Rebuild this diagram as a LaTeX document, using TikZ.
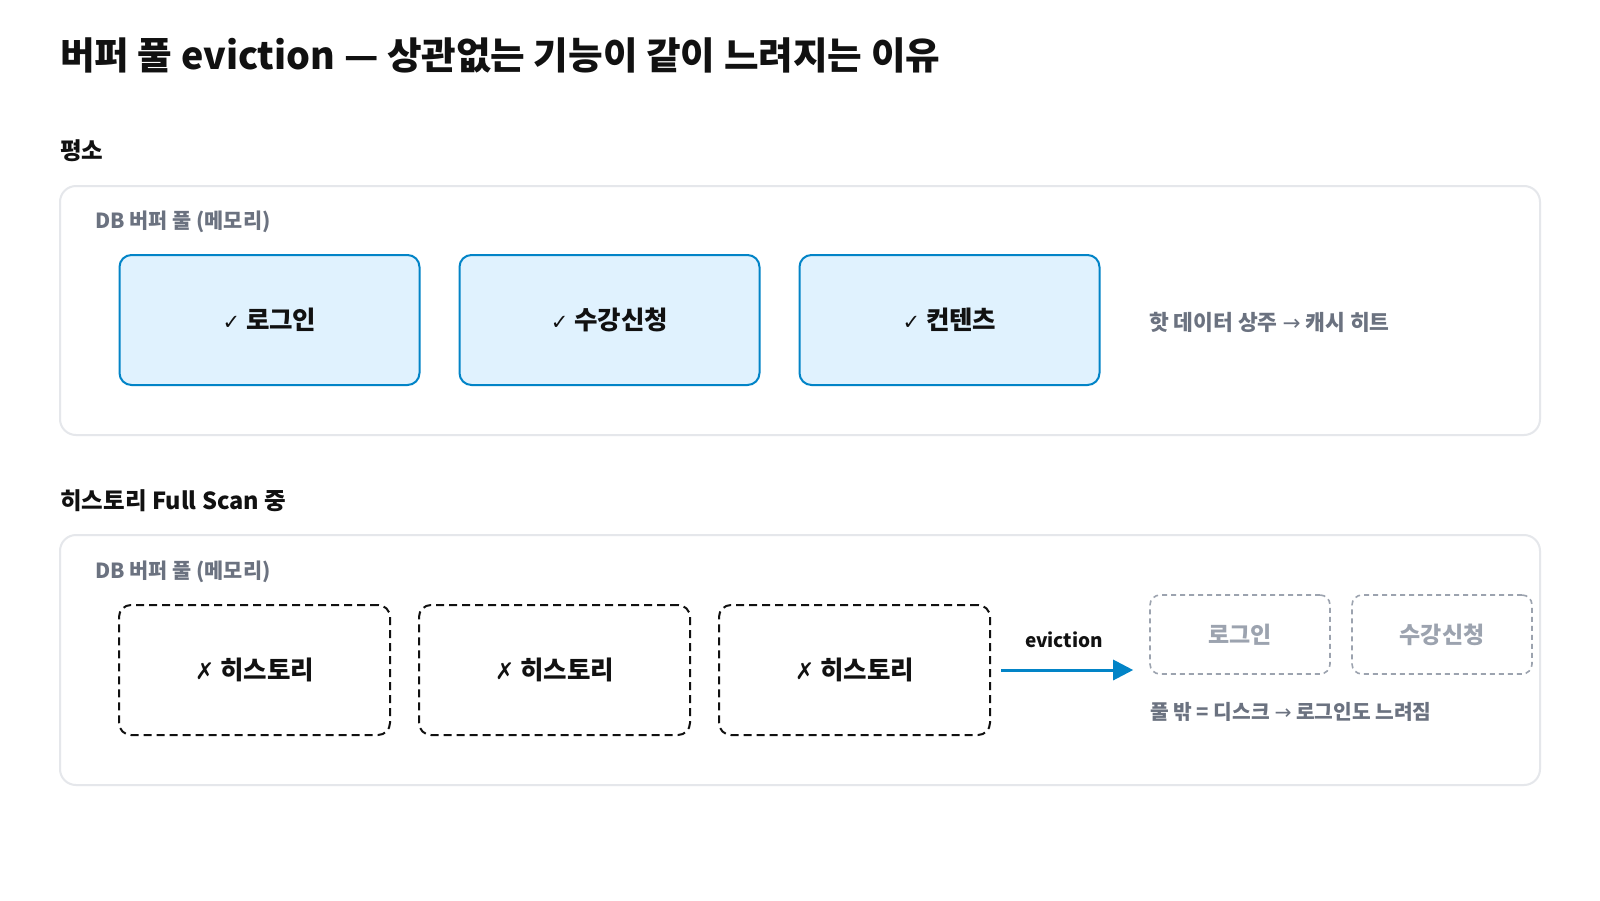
\documentclass[tikz,border=0pt]{standalone}
\usepackage{fontspec}
\setmainfont{Noto Sans CJK KR}
\newfontfamily\sym{DejaVu Sans}
\usetikzlibrary{arrows.meta}
\definecolor{ink}{HTML}{111111}
\definecolor{muted}{HTML}{6B7280}
\definecolor{panelline}{HTML}{E5E7EB}
\definecolor{hotfill}{HTML}{E0F2FE}
\definecolor{hotline}{HTML}{0284C7}
\definecolor{ghost}{HTML}{9CA3AF}
\newcommand{\lowered}[1]{\raisebox{-2.5pt}{#1}}
\tikzset{
  panel/.style={draw=panelline, line width=2pt, rounded corners=16pt, fill=white, minimum width=1480pt, minimum height=249pt, inner sep=0pt},
  hotbox/.style={draw=hotline, fill=hotfill, line width=2pt, rounded corners=12pt, minimum width=300pt, minimum height=130pt, inner sep=0pt, text=ink, font=\fontsize{25.5}{30}\selectfont\bfseries},
  coldbox/.style={draw=ink, dash pattern=on 8pt off 5pt, line width=2pt, rounded corners=12pt, minimum width=271pt, minimum height=130pt, inner sep=0pt, text=ink, font=\fontsize{25.5}{30}\selectfont\bfseries},
  ghostbox/.style={draw=ghost, dash pattern=on 5pt off 4pt, line width=1.6pt, rounded corners=10pt, minimum width=180pt, minimum height=79pt, inner sep=0pt, text=ghost, font=\fontsize{23}{27}\selectfont\bfseries},
  sectionlbl/.style={anchor=west, inner sep=0pt, text=ink, font=\fontsize{23.5}{28}\selectfont\bfseries},
  pooltag/.style={anchor=west, inner sep=0pt, text=muted, font=\fontsize{20.8}{25}\selectfont\bfseries},
  note/.style={anchor=west, inner sep=0pt, text=muted, font=\fontsize{21.5}{26}\selectfont\bfseries},
  evarrow/.style={draw=hotline, line width=3pt, -{Triangle[length=20pt,width=20pt]}},
}
\begin{document}
\begin{tikzpicture}[x=1pt,y=-1pt]
\useasboundingbox (0,0) rectangle (1600,900);
\fill[white] (0,0) rectangle (1600,900);

\node[anchor=west, inner sep=0pt, text=ink, font=\fontsize{37.6}{44}\selectfont\bfseries] (title) at (60,55) {버퍼 풀 eviction — 상관없는 기능이 같이 느려지는 이유};

% Section 1
\node[sectionlbl] (sec1) at (60,151) {평소};
\node[panel] (p1) at (800,310.5) {};
\node[pooltag] (tag1) at (95,222) {DB 버퍼 풀 (메모리)};
\node[hotbox] (h1) at (269.5,320) {\lowered{{\sym\mdseries\fontsize{21}{25}\selectfont ✓} 로그인}};
\node[hotbox] (h2) at (609.5,320) {\lowered{{\sym\mdseries\fontsize{21}{25}\selectfont ✓} 수강신청}};
\node[hotbox] (h3) at (949.5,320) {\lowered{{\sym\mdseries\fontsize{21}{25}\selectfont ✓} 컨텐츠}};
\node[note] (hot) at (1149,322) {핫 데이터 상주 {\sym\mdseries →} 캐시 히트};

% Section 2
\node[sectionlbl] (sec2) at (60,501) {히스토리 Full Scan 중};
\node[panel, minimum height=250pt] (p2) at (800,660) {};
\node[pooltag] (tag2) at (95,572) {DB 버퍼 풀 (메모리)};
\node[coldbox] (c1) at (254.5,670) {\lowered{{\sym\fontsize{23}{27}\selectfont ✗} 히스토리}};
\node[coldbox] (c2) at (554.5,670) {\lowered{{\sym\fontsize{23}{27}\selectfont ✗} 히스토리}};
\node[coldbox] (c3) at (854.5,670) {\lowered{{\sym\fontsize{23}{27}\selectfont ✗} 히스토리}};
\node[ghostbox] (g1) at (1240,634.5) {로그인};
\node[ghostbox] (g2) at (1442,634.5) {수강신청};
\draw[evarrow, shorten <=10pt, shorten >=16pt] (c3.east) -- (c3.east -| g1.west);
\node[inner sep=0pt, text=ink, font=\fontsize{19}{23}\selectfont\bfseries] (evlbl) at (1064,640) {eviction};
\node[note, font=\fontsize{20.3}{24}\selectfont\bfseries] (disk) at (1150,712) {풀 밖 = 디스크 {\sym\mdseries →} 로그인도 느려짐};
\end{tikzpicture}
\end{document}
